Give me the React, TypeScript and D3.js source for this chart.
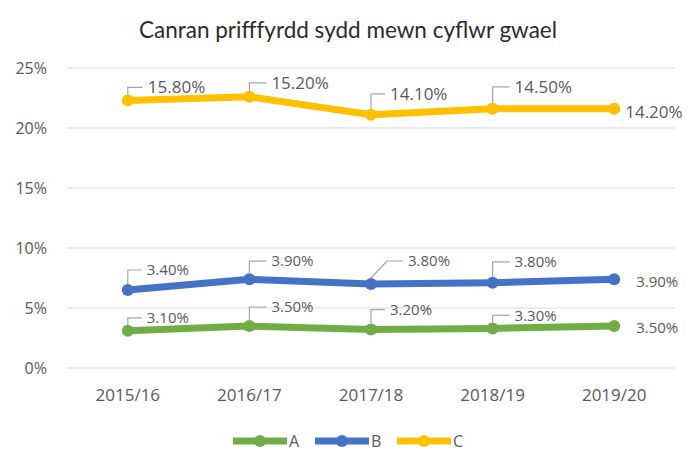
import React from "react";
import * as d3 from "d3";

const categories = ["2015/16", "2016/17", "2017/18", "2018/19", "2019/20"];
const seriesNames = ["A", "B", "C"];
const valuesA = [3.1, 3.5, 3.2, 3.3, 3.5];
const valuesB = [3.4, 3.9, 3.8, 3.8, 3.9];
const valuesC = [15.8, 15.2, 14.1, 14.5, 14.2];
const yTicks = [0, 5, 10, 15, 20, 25];
const title = "Canran prifffyrdd sydd mewn cyflwr gwael";

const colors = ["#70AD47", "#4472C4", "#FFC000"];
// label offsets [dx to text start, dy to text centre, leader elbow dx, hasLeader]
const labelLayout: [number, number, number, boolean][][] = [
  [[19, -13, 0, true], [22, -19, 0, true], [19, -20, 0, true], [22, -13, 0, true], [22, 2, 0, false]],
  [[19, -20, 0, true], [22, -18, 0, true], [37, -23, 16, true], [22, -21, 0, true], [22, 3, 0, false]],
  [[20, -13, 0, true], [22, -14, 0, true], [19, -21, 0, true], [22, -22, 0, true], [11, 3, 0, false]],
];
const labelSizes = [15, 15, 17];

export default function App() {
  const W = 697, H = 452;
  const left = 67, right = 675, top = 68, bottom = 368;
  const x = d3.scaleBand().domain(categories).range([left, right]);
  const y = d3.scaleLinear().domain([0, 25]).range([bottom, top]);
  const rows = categories.map((c, i) => ({ cat: c, A: valuesA[i], B: valuesB[i], C: valuesC[i] }));
  const stacked = d3.stack<any>().keys(seriesNames)(rows);
  const raw = [valuesA, valuesB, valuesC];
  const cx = (c: string) => (x(c) as number) + x.bandwidth() / 2;
  const line = d3.line<[number, number]>().x((d) => d[0]).y((d) => d[1]);
  const font = "'Open Sans', sans-serif";
  const textColor = "#595959";

  return (
    <svg width={W} height={H} style={{ position: "absolute", left: 0, top: 0, background: "#fff" }}>
      <rect width={W} height={H} fill="#fff" />
      <text x={348} y={38} textAnchor="middle" fontFamily="Lato, sans-serif" fontSize={22.5} fill="#2b2b2b">
        {title}
      </text>
      {yTicks.map((t) => (
        <g key={t}>
          <line x1={left} x2={right} y1={y(t)} y2={y(t)} stroke="#d9d9d9" strokeWidth={1.2} />
          <text x={47} y={y(t)} dy="0.35em" textAnchor="end" fontFamily={font} fontSize={16} fill={textColor}>
            {t}%
          </text>
        </g>
      ))}
      {categories.map((c) => (
        <text key={c} x={cx(c)} y={395} dy="0.35em" textAnchor="middle" fontFamily={font} fontSize={17} fill={textColor}>
          {c}
        </text>
      ))}
      {stacked.map((s, si) => {
        const pts: [number, number][] = s.map((d, i) => [cx(categories[i]), y(d[1])]);
        return (
          <g key={si}>
            <path d={line(pts) || ""} fill="none" stroke={colors[si]} strokeWidth={7} strokeLinejoin="round" />
            {pts.map((p, i) => (
              <circle key={i} cx={p[0]} cy={p[1]} r={6} fill={colors[si]} />
            ))}
            {pts.map((p, i) => {
              const [dx, dy, ex, lead] = labelLayout[si][i];
              const lx = p[0] + dx, ly = p[1] + dy;
              return (
                <g key={"l" + i}>
                  {lead && (
                    <polyline
                      points={`${p[0]},${p[1] - 6} ${p[0] + ex},${ly} ${lx - 5},${ly}`}
                      fill="none"
                      stroke="#a6a6a6"
                      strokeWidth={1.2}
                    />
                  )}
                  <text x={lx} y={ly} dy="0.35em" fontFamily={font} fontSize={labelSizes[si]} fill={textColor}>
                    {raw[si][i].toFixed(2)}%
                  </text>
                </g>
              );
            })}
          </g>
        );
      })}
      {seriesNames.map((n, i) => {
        const x0 = 233 + i * 82;
        return (
          <g key={n}>
            <line x1={x0} x2={x0 + 54} y1={441} y2={441} stroke={colors[i]} strokeWidth={7} />
            <circle cx={x0 + 27} cy={441} r={6} fill={colors[i]} />
            <text x={x0 + 56} y={441} dy="0.35em" fontFamily={font} fontSize={16} fill={textColor}>
              {n}
            </text>
          </g>
        );
      })}
    </svg>
  );
}
